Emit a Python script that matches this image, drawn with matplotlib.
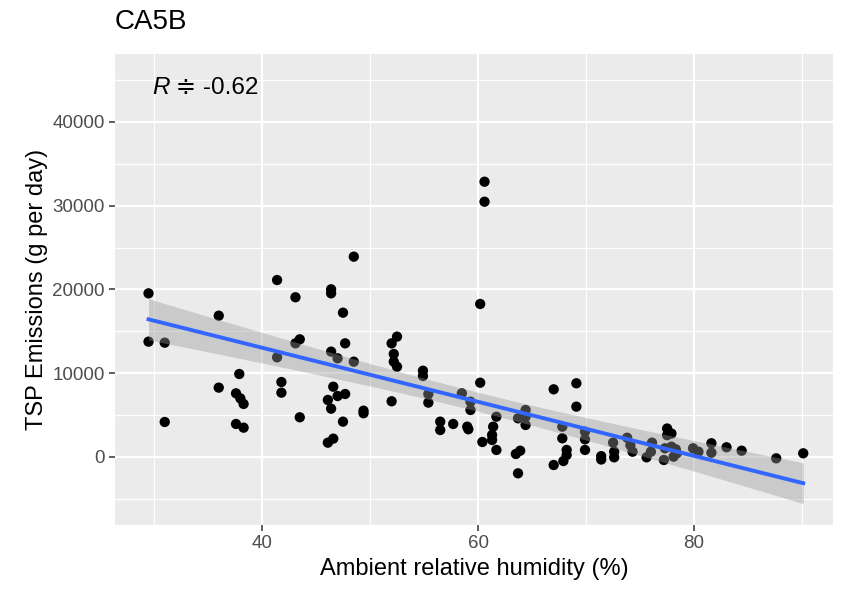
import numpy as np
import matplotlib.pyplot as plt

plt.rcParams['font.family'] = ['Liberation Sans', 'DejaVu Sans']

# humidity (%) and TSP emissions (g per day)
humidity = [29.5, 29.5, 31.0, 31.0, 36.0, 36.0, 37.9, 37.6, 38.0, 38.3,
            37.6, 38.3, 41.4, 41.4, 41.8, 41.8, 48.5, 43.1, 46.4, 46.4,
            47.5, 43.1, 43.5, 46.4, 47.0, 47.7, 48.5, 46.6, 47.0, 47.7,
            46.1, 46.4, 43.5, 47.5, 49.4, 49.4, 46.6, 46.1, 52.0, 52.5,
            52.2, 52.2, 52.5, 52.0, 54.9, 54.9, 55.4, 55.4, 56.5, 56.5,
            60.2, 67.0, 58.5, 59.3, 59.3, 57.7, 59.0, 59.1, 61.7, 61.4,
            61.3, 61.3, 60.4, 61.7, 64.4, 64.4, 64.4, 63.7, 63.9, 63.5,
            63.7, 67.0, 60.6, 60.6, 60.2, 69.1, 69.1, 69.9, 69.9, 69.9,
            67.8, 67.8, 68.2, 68.2, 67.9, 71.4, 71.4, 72.5, 72.6, 72.6,
            73.8, 74.1, 74.3, 75.6, 76.1, 76.0, 77.5, 77.5, 77.9, 77.3,
            77.2, 77.9, 78.4, 78.1, 78.3, 79.9, 80.4, 81.6, 81.6, 83.0,
            84.4, 87.6, 90.1]
tsp = [19540, 13770, 13650, 4180, 16870, 8280, 9910, 7600, 7000, 6330,
       3940, 3500, 21130, 11900, 8950, 7680, 23920, 19070, 20020, 19540,
       17230, 13570, 14050, 12580, 11780, 13570, 11380, 8390, 7280, 7520,
       6810, 5770, 4740, 4220, 5530, 5220, 2190, 1710, 13570, 14370,
       12300, 11380, 10780, 6650, 10300, 9670, 7520, 6490, 4220, 3220,
       8870, 8080, 7600, 6600, 5610, 3940, 3620, 3310, 4810, 3620,
       2630, 2030, 1790, 840, 5610, 4810, 3820, 4620, 750, 360,
       -1950, -960, 32870, 30480, 18270, 8800, 6010, 3020, 2110, 840,
       3620, 2230, 840, 240, -480, 100, -300, 1710, 630, -40,
       2300, 1400, 630, -40, 1710, 630, 3400, 2600, 2800, 1040,
       -360, 1230, 440, 40, 920, 1040, 630, 1640, 510, 1160,
       750, -160, 440]

# linear smooth and its confidence band
smooth_x = [29.5, 35, 40, 45, 50, 55, 60, 65, 70, 75, 80, 85, 90.1]
smooth_y = [16440, 14665, 13050, 11435, 9820, 8205, 6590, 4975, 3360,
            1745, 130, -1485, -3130]
band_hi = [18900, 16780, 14875, 12995, 11160, 9390, 7720, 6160, 4700,
           3305, 1955, 635, -700]
band_lo = [13980, 12550, 11225, 9875, 8480, 7020, 5460, 3790, 2020,
           185, -1695, -3600, -5570]

r_label = "-0.62"
x_ticks = [40, 60, 80]
y_ticks = [0, 10000, 20000, 30000, 40000]

fig = plt.figure(figsize=(8.45, 5.92), dpi=100)
ax = fig.add_axes([0.136, 0.1132, 0.850, 0.7956])
ax.set_facecolor('#EBEBEB')
for sp in ax.spines.values():
    sp.set_visible(False)

ax.set_xlim(26.39, 92.87)
ax.set_ylim(-8120, 48120)
ax.set_xticks(x_ticks)
ax.set_yticks(y_ticks)
ax.set_xticks([30, 50, 70, 90], minor=True)
ax.set_yticks([-5000, 5000, 15000, 25000, 35000, 45000], minor=True)
ax.grid(which='major', color='white', lw=1.6)
ax.grid(which='minor', color='white', lw=0.8)
ax.set_axisbelow(True)
ax.tick_params(which='major', length=4, width=1.1, color='#333333',
               labelcolor='#4D4D4D', labelsize=13.5)
ax.tick_params(which='minor', length=0)

ax.scatter(humidity, tsp, s=55, color='black', edgecolors='none', zorder=2)
ax.fill_between(smooth_x, band_lo, band_hi, color='#999999', alpha=0.4,
                lw=0, zorder=3)
ax.plot(smooth_x, smooth_y, color='#3366FF', lw=2.8, zorder=4)

# correlation label: italic R, then the rest
t1 = ax.text(29.8, 44060, "R", fontsize=17.5, style='italic', ha='left',
             va='center', zorder=5)
ax.annotate(" \u2251 " + r_label, xy=(1, 0), xycoords=t1, fontsize=17.5,
            ha='left', va='bottom', zorder=5)

ax.set_xlabel("Ambient relative humidity (%)", fontsize=17, labelpad=4)
ax.set_ylabel("TSP Emissions (g per day)", fontsize=17, labelpad=3)
fig.text(0.136, 0.962, "CA5B", fontsize=20, ha='left', va='center')

fig.savefig("out.png", dpi=100)
